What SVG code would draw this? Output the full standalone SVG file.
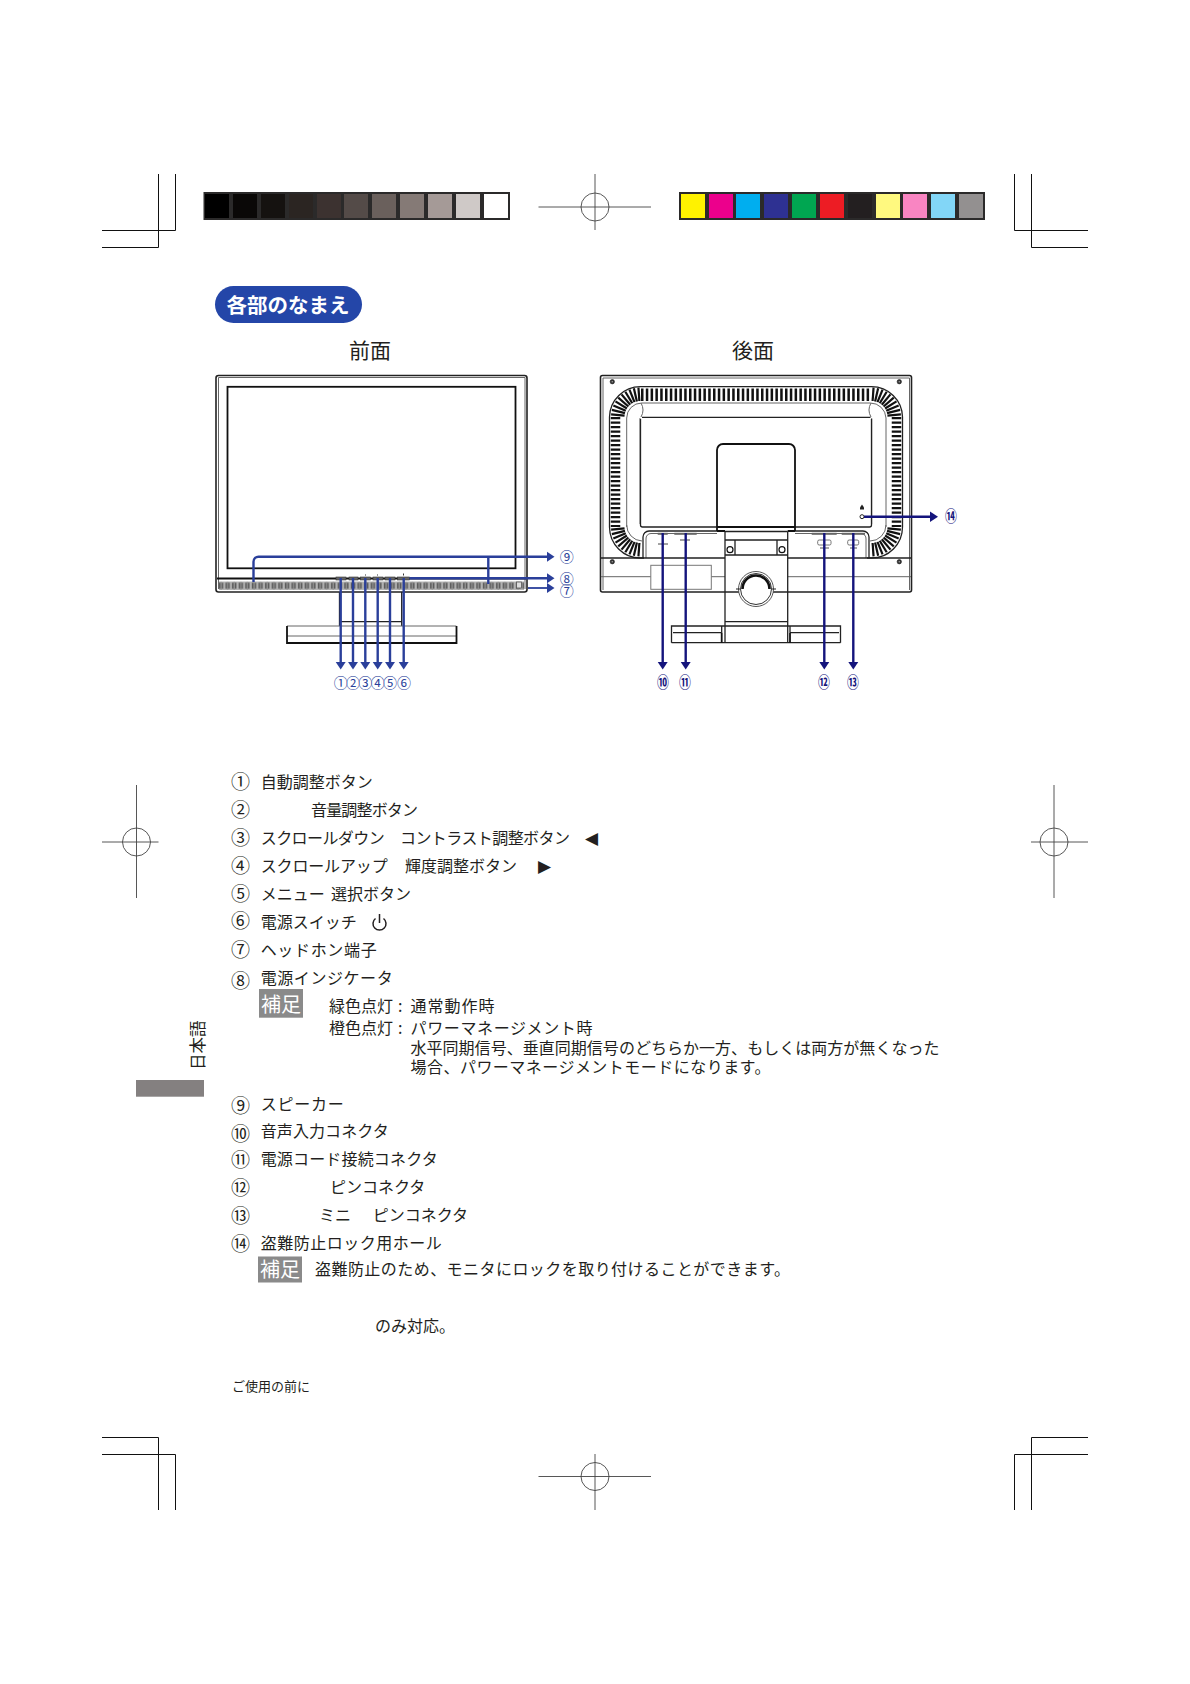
<svg xmlns="http://www.w3.org/2000/svg" xmlns:xlink="http://www.w3.org/1999/xlink" width="1190" height="1684" viewBox="0 0 1190 1684">
<style>
text{font-family:"Noto Sans CJK JP","Noto Sans",sans-serif;fill:#231f20}
.t{font-size:16px}
.n{font-size:19px;text-anchor:middle}
.b{font-size:14px;text-anchor:middle;fill:#2a3f9a}
.r{font-size:14px;text-anchor:middle;fill:#14147c;font-weight:700}
.w{font-size:20px;fill:#fff}
.h{font-size:21px}
.crop{stroke:#111;stroke-width:1;fill:none}
.reg{stroke:#444;stroke-width:.9;fill:none}
.ln{fill:none;stroke:#222;stroke-width:1.3}
.th{fill:none;stroke:#111;stroke-width:1.8}
.gl{fill:none;stroke:#666;stroke-width:1}
.fa{fill:none;stroke:#2a3f9a;stroke-width:2.4;marker-end:url(#af)}
.fb{fill:none;stroke:#14147c;stroke-width:2.4;marker-end:url(#ar)}
.btn{fill:#666;stroke:#333;stroke-width:.6}
.port{fill:#666}
</style>
<defs>
<marker id="af" markerUnits="userSpaceOnUse" markerWidth="8" markerHeight="11" viewBox="0 0 8 11" refX="0.5" refY="5.5" orient="auto"><polygon points="0,0.2 8,5.5 0,10.800" fill="#2a3f9a"/></marker>
<marker id="ar" markerUnits="userSpaceOnUse" markerWidth="8" markerHeight="11" viewBox="0 0 8 11" refX="0.5" refY="5.5" orient="auto"><polygon points="0,0.2 8,5.5 0,10.800" fill="#14147c"/></marker>
<pattern id="grille" patternUnits="userSpaceOnUse" x="218" y="581.5" width="6.6" height="8.5">
<rect width="6.6" height="8.5" fill="#b4b4b4"/><rect x=".8" y="1.2" width="4.4" height="6" fill="#5a5a5a"/><rect x="2.4" y="0" width="1.2" height="8.5" fill="#999"/>
</pattern>
<g id="fan" stroke="#111" stroke-width="2.2">
<line x1="-16" y1="0" x2="-29.5" y2="0" transform="rotate(5)"/>
<line x1="-16" y1="0" x2="-29.5" y2="0" transform="rotate(14)"/>
<line x1="-16" y1="0" x2="-29.5" y2="0" transform="rotate(23)"/>
<line x1="-16" y1="0" x2="-29.5" y2="0" transform="rotate(32)"/>
<line x1="-16" y1="0" x2="-29.5" y2="0" transform="rotate(41)"/>
<line x1="-16" y1="0" x2="-29.5" y2="0" transform="rotate(50)"/>
<line x1="-16" y1="0" x2="-29.5" y2="0" transform="rotate(59)"/>
<line x1="-16" y1="0" x2="-29.5" y2="0" transform="rotate(68)"/>
<line x1="-16" y1="0" x2="-29.5" y2="0" transform="rotate(77)"/>
<line x1="-16" y1="0" x2="-29.5" y2="0" transform="rotate(86)"/>
</g>
<g id="screw"><circle r="2.2" fill="#333" stroke="#222" stroke-width=".6"/><circle r=".8" fill="#999"/></g>
</defs>
<rect width="1190" height="1684" fill="#fff"/>

<g id="crop-marks">
<path class="crop" d="M102 230.5H175.5V174M102 247.5H158.5V174"/>
<path class="crop" d="M1088 230.5H1014.5V174M1088 247.5H1031.5V174"/>
<path class="crop" d="M102 1437.5H158.5V1510M102 1454.5H175.5V1510"/>
<path class="crop" d="M1088 1437.5H1031.5V1510M1088 1454.5H1014.5V1510"/>
</g>
<g id="registration-marks">
<path class="reg" d="M538.5 207H651M595 174V230"/><circle class="reg" cx="595" cy="207" r="14"/>
<path class="reg" d="M102 842H158.5M136.5 785V898"/><circle class="reg" cx="136.500" cy="842" r="14"/>
<path class="reg" d="M1031 842H1088M1054 785V898"/><circle class="reg" cx="1054" cy="842" r="14"/>
<path class="reg" d="M538.5 1476.500H651M595 1454V1510"/><circle class="reg" cx="595" cy="1476.500" r="14"/>
</g>
<g id="gray-scale">
<rect x="203.500" y="192" width="306.500" height="28" fill="#2b2a2a"/>
<rect x="205" y="194" width="24" height="24" fill="#000"/>
<rect x="233" y="194" width="24" height="24" fill="#0a0807"/>
<rect x="261" y="194" width="24" height="24" fill="#151210"/>
<rect x="289" y="194" width="24" height="24" fill="#2b2522"/>
<rect x="317" y="194" width="24" height="24" fill="#3c3230"/>
<rect x="344" y="194" width="24" height="24" fill="#544b48"/>
<rect x="372" y="194" width="24" height="24" fill="#6a605c"/>
<rect x="400" y="194" width="24" height="24" fill="#857a76"/>
<rect x="428" y="194" width="24" height="24" fill="#a59a97"/>
<rect x="456" y="194" width="24" height="24" fill="#cfc9c7"/>
<rect x="484" y="194" width="24" height="24" fill="#fff"/>
</g>
<g id="color-bar">
<rect x="679" y="192" width="306" height="28" fill="#2b2a2a"/>
<rect x="681" y="194" width="24" height="24" fill="#fff200"/>
<rect x="709" y="194" width="24" height="24" fill="#ec008c"/>
<rect x="736" y="194" width="24" height="24" fill="#00aeef"/>
<rect x="764" y="194" width="24" height="24" fill="#2e3192"/>
<rect x="792" y="194" width="24" height="24" fill="#00a651"/>
<rect x="820" y="194" width="24" height="24" fill="#ed1c24"/>
<rect x="848" y="194" width="24" height="24" fill="#231f20"/>
<rect x="876" y="194" width="24" height="24" fill="#fff97f"/>
<rect x="903" y="194" width="24" height="24" fill="#f985c2"/>
<rect x="931" y="194" width="24" height="24" fill="#82d6f7"/>
<rect x="959" y="194" width="24" height="24" fill="#939090"/>
</g>

<g id="title">
<rect x="215" y="286" width="147" height="37" rx="18.500" fill="#2446a8"/>
<text x="226.500" y="313" font-size="20.500" font-weight="700" style="fill:#fff">各部のなまえ</text>
</g>
<text class="h" x="349" y="358">前面</text>
<text class="h" x="732" y="358">後面</text>

<g id="front-monitor">
<rect x="216" y="375.500" width="311" height="216.500" rx="2.500" fill="#fff" stroke="#222" stroke-width="1.6"/>
<path class="gl" d="M218.500 589V377.500H525V589"/>
<rect x="227.500" y="386.800" width="288" height="181.500" fill="#fff" stroke="#111" stroke-width="1.8"/>
<path class="th" d="M217 578.500H526"/>
<rect x="219" y="581.500" width="305" height="8.500" fill="url(#grille)"/>
<rect x="516.500" y="582" width="5" height="6" fill="#ddd" stroke="#555" stroke-width=".8"/>
<rect class="btn" x="336" y="577" width="10" height="3"/>
<rect class="btn" x="349" y="577" width="9" height="3"/>
<rect class="btn" x="360.500" y="577" width="10" height="3"/>
<rect class="btn" x="373" y="577" width="10" height="3"/>
<rect class="btn" x="385" y="577" width="10" height="3"/>
<rect class="btn" x="397.500" y="577" width="12" height="3"/>
<path d="M365.500 574.500v1M377.500 574.500v1M403.500 573.500v2" stroke="#333" stroke-width="1"/>
<path class="ln" d="M339.500 592V626M401.700 592V626M339.500 621.700H401.700"/>
<path class="gl" d="M287 626H456.300M287 636H456.300"/>
<path class="th" d="M287 626V643H456.500V626" stroke-width="1.300"/>
</g>

<g id="rear-monitor">
<rect x="600.500" y="375.500" width="311" height="216.500" rx="2" fill="#fff" stroke="#222" stroke-width="1.6"/>
<path class="gl" d="M603 590V378H909.500V590"/>
<path class="gl" d="M601 576.700H725M787.700 576.700H911"/>
<use href="#screw" x="612.300" y="381.700"/><use href="#screw" x="899.300" y="381.700"/><use href="#screw" x="612.300" y="561.700"/><use href="#screw" x="899.300" y="561.700"/>
<path class="ln" d="M644 558H640.500A31 31 0 0 1 609.500 527V417A31 31 0 0 1 640.500 386.700H871.500A31 31 0 0 1 902.500 417V527A31 31 0 0 1 871.500 558H867"/>
<line x1="641" y1="394.700" x2="871" y2="394.700" stroke="#111" stroke-width="12.500" stroke-dasharray="2.500 2.300"/>
<line x1="615.500" y1="417" x2="615.500" y2="527" stroke="#111" stroke-width="9.500" stroke-dasharray="2.200 2.300"/>
<line x1="896.500" y1="417" x2="896.500" y2="527" stroke="#111" stroke-width="9.500" stroke-dasharray="2.200 2.300"/>
<use href="#fan" transform="translate(640.500 417)"/>
<use href="#fan" transform="translate(871.500 417) scale(-1 1)"/>
<use href="#fan" transform="translate(640.500 527) scale(1 -1)"/>
<use href="#fan" transform="translate(871.500 527) scale(-1 -1)"/>
<path class="gl" d="M626.700 527V418A15 15 0 0 1 641.700 403H870.300A15.700 15.700 0 0 1 886 418V527"/>
<path class="gl" d="M626.700 525A16 16 0 0 0 642 541M886 525A16 16 0 0 1 870 541"/>
<path class="gl" d="M640 418V524M871.700 418V524M641 417A14 14 0 0 0 641 403M871 417A14 14 0 0 1 871 403"/>
<path class="ln" d="M642 417.300H870.500M640.500 419V525A2 2 0 0 0 642.500 527H716.700M871.500 419V525A2 2 0 0 1 869.500 527H795"/>
<path class="ln" d="M643 558V537A6 6 0 0 1 649 531H717M869 558V537A6 6 0 0 0 863 531H795"/>
<path class="gl" d="M646 558V539A5 5 0 0 1 651 533.500H717M866 558V539A5 5 0 0 0 861 533.500H795"/>
<path class="ln" d="M601 558H725M787.700 558H911"/>
<rect x="650.800" y="565.300" width="60.500" height="24" fill="#fff" stroke="#777" stroke-width="1"/>
<path class="th" d="M717 531V450A6 6 0 0 1 723 444H789A6 6 0 0 1 795 450V531M717 527H795M717 531H725M787.700 531H795" stroke-width="1.600"/>
<path class="ln" d="M725 531.500H787.700M725 540H787.700M735 540V555M777 540V555"/>
<circle cx="730" cy="549.700" r="3" fill="#fff" stroke="#111" stroke-width="1.200"/>
<circle cx="782" cy="549.700" r="3" fill="#fff" stroke="#111" stroke-width="1.200"/>
<path class="ln" d="M725 531.500V642.700M787.700 531.500V642.700M725 555H787.700M725 621.700H787.700"/>
<circle cx="756" cy="589" r="17.500" fill="#fff" stroke="#444" stroke-width=".9"/>
<circle cx="756" cy="589" r="15.500" fill="#fff" stroke="#333" stroke-width="1"/>
<path d="M742.500 589A13.500 13.500 0 0 1 769.500 589" fill="none" stroke="#111" stroke-width="2.600"/>
<path d="M736 589h4M772 589h4" stroke="#222" stroke-width="1.200"/>
<path class="ln" d="M671.500 642.700V626H721.700V632.700M840.500 642.700V626H790V632.700M721.700 626H790M671.500 642.700H840.500M673 632.700H721.700M790 632.700H839"/>
<path d="M721.700 632.700V642.700M790 632.700V642.700" stroke="#111" stroke-width="1.800"/>
<rect class="port" x="657.700" y="532.800" width="10" height="2"/>
<rect class="port" x="674.300" y="532.800" width="22.400" height="2"/>
<rect class="port" x="811.700" y="532.800" width="25" height="2"/>
<rect class="port" x="841.700" y="532.800" width="23.300" height="2"/>
<path d="M658 544h10M680 540h10" stroke="#444" stroke-width="1"/>
<rect x="817.700" y="540" width="13.300" height="5" rx="1.500" fill="#fff" stroke="#666" stroke-width=".9"/>
<rect x="847.700" y="540" width="11" height="5" rx="1.500" fill="#fff" stroke="#666" stroke-width=".9"/>
<path d="M820 548h9M850 548h7" stroke="#555" stroke-width="1"/>
<path d="M860 507.500l2-3 2 3v2h-4z" fill="#222"/>
<circle cx="862" cy="516.700" r="2" fill="#fff" stroke="#222" stroke-width="1"/>
</g>

<g id="connectors">
<path class="fa" d="M340.700 578V662"/>
<path class="fa" d="M353 578V662"/>
<path class="fa" d="M365.300 578V662"/>
<path class="fa" d="M377.700 578V662"/>
<path class="fa" d="M390 578V662"/>
<path class="fa" d="M403.700 578V662"/>
<path class="fa" d="M253.500 582V561.700A5 5 0 0 1 258.500 556.700H547"/>
<path d="M488.300 556.700V584" fill="none" stroke="#2a3f9a" stroke-width="2.400"/>
<path class="fa" d="M409.500 578.300H547"/>
<path class="fa" d="M528 588H547" style="stroke-width:1.800"/>
<path class="fb" d="M662.700 533V662"/>
<path class="fb" d="M685.700 533V662"/>
<path class="fb" d="M824.300 533V662"/>
<path class="fb" d="M853.300 533V662"/>
<path class="fb" d="M864 516.700H930.500"/>
</g>

<g id="callouts-front">
<text class="b" x="340.700" y="687.500">①</text><text class="b" x="353" y="687.500">②</text><text class="b" x="365.300" y="687.500">③</text><text class="b" x="377.700" y="687.500">④</text><text class="b" x="390" y="687.500">⑤</text><text class="b" x="404" y="687.500">⑥</text>
<text class="b" x="566.700" y="562">⑨</text><text class="b" x="566.700" y="584">⑧</text><text class="b" x="566.700" y="595.500">⑦</text>
</g>
<g id="callouts-rear">
<text class="r" transform="translate(663 688) scale(.85 1.1)">⑩</text><text class="r" transform="translate(685 688) scale(.85 1.1)">⑪</text><text class="r" transform="translate(824 688) scale(.85 1.1)">⑫</text><text class="r" transform="translate(853 688) scale(.85 1.1)">⑬</text><text class="r" transform="translate(951 522) scale(.85 1.1)">⑭</text>
</g>

<g id="side-tab">
<rect x="136" y="1080" width="68" height="16.700" fill="#848080"/>
<text x="204" y="1070" font-size="16.500" transform="rotate(-90 204 1070)">日本語</text>
</g>

<g id="item-1"><text class="n" x="240.500" y="788.500">①</text><text class="t" x="260.700" y="788">自動調整ボタン</text></g>
<g id="item-2"><text class="n" x="240.500" y="816.500">②</text><text class="t" x="311" y="816" textLength="107">音量調整ボタン</text></g>
<g id="item-3"><text class="n" x="240.500" y="844.700">③</text><text class="t" x="260.700" y="844.200" textLength="124">スクロールダウン</text><text class="t" x="400" y="844.200" textLength="170">コントラスト調整ボタン</text><text x="585" y="844" font-size="17" style="font-family:'DejaVu Sans',sans-serif">◀</text></g>
<g id="item-4"><text class="n" x="240.500" y="872.700">④</text><text class="t" x="260.700" y="872.200" textLength="127">スクロールアップ</text><text class="t" x="405" y="872.200">輝度調整ボタン</text><text x="538" y="872" font-size="17" style="font-family:'DejaVu Sans',sans-serif">▶</text></g>
<g id="item-5"><text class="n" x="240.500" y="900.700">⑤</text><text class="t" x="260.700" y="900.200">メニュー</text><text class="t" x="331" y="900.200">選択ボタン</text></g>
<g id="item-6"><text class="n" x="240.500" y="928.300">⑥</text><text class="t" x="260.700" y="928">電源スイッチ</text>
<path d="M375.500 918.500A6.500 6.500 0 1 0 383.500 918.500M379.500 914V923" fill="none" stroke="#231f20" stroke-width="1.500"/></g>
<g id="item-7"><text class="n" x="240.500" y="956.700">⑦</text><text class="t" x="260.700" y="956.200" textLength="116">ヘッドホン端子</text></g>
<g id="item-8"><text class="n" x="240.500" y="987.500">⑧</text><text class="t" x="260.700" y="984.200" textLength="132">電源インジケータ</text>
<rect x="259" y="989" width="44" height="28.700" fill="#8a8a8a"/><text class="w" x="261" y="1011.500">補足</text>
<text class="t" x="329" y="1012.200">緑色点灯</text><text class="t" x="398" y="1012.200">:</text><text class="t" x="410.500" y="1012.200" textLength="84">通常動作時</text>
<text class="t" x="329" y="1034">橙色点灯</text><text class="t" x="398" y="1034">:</text><text class="t" x="410.500" y="1034" textLength="182">パワーマネージメント時</text>
<text class="t" x="410.500" y="1054" textLength="529">水平同期信号、垂直同期信号のどちらか一方、もしくは両方が無くなった</text>
<text class="t" x="410.500" y="1073" textLength="360">場合、パワーマネージメントモードになります。</text></g>
<g id="item-9"><text class="n" x="240.500" y="1113">⑨</text><text class="t" x="260.700" y="1110" textLength="83">スピーカー</text></g>
<g id="item-10"><text class="n" x="240.500" y="1141">⑩</text><text class="t" x="260.700" y="1137" textLength="128">音声入力コネクタ</text></g>
<g id="item-11"><text class="n" x="240.500" y="1167">⑪</text><text class="t" x="260.700" y="1165" textLength="177">電源コード接続コネクタ</text></g>
<g id="item-12"><text class="n" x="240.500" y="1195">⑫</text><text class="t" x="330" y="1193">ピンコネクタ</text></g>
<g id="item-13"><text class="n" x="240.500" y="1223">⑬</text><text class="t" x="319" y="1221">ミニ</text><text class="t" x="372.700" y="1221">ピンコネクタ</text></g>
<g id="item-14"><text class="n" x="240.500" y="1251">⑭</text><text class="t" x="260.700" y="1248.700" textLength="181">盗難防止ロック用ホール</text>
<rect x="258" y="1256.500" width="44" height="26" fill="#8a8a8a"/><text class="w" x="260" y="1277">補足</text>
<text class="t" x="315" y="1274.500" textLength="475">盗難防止のため、モニタにロックを取り付けることができます。</text></g>
<text class="t" x="375" y="1332">のみ対応。</text>
<text x="232" y="1391" font-size="13">ご使用の前に</text>
</svg>
